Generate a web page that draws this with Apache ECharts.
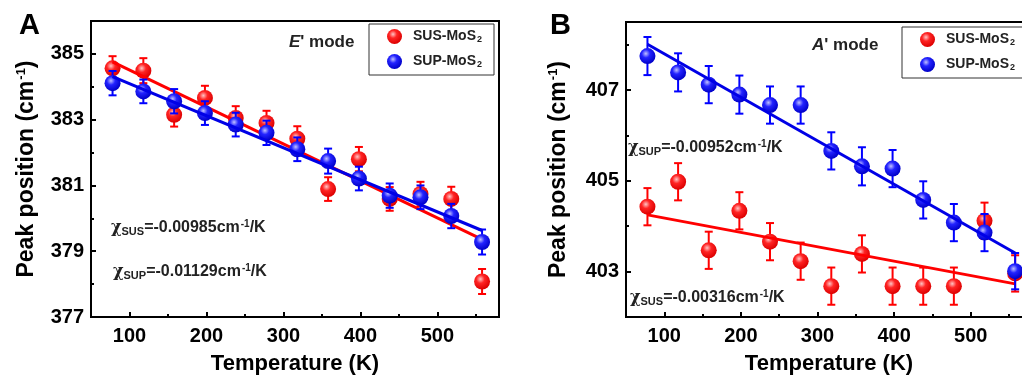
<!DOCTYPE html>
<html lang="en">
<head>
    <meta charset="UTF-8">
    <title>Peak position vs temperature</title>
    <script src="https://cdn.jsdelivr.net/npm/echarts@6.0.0/dist/echarts.min.js"></script>
    <style>
        body {
            margin: 0;
            padding: 0;
            background: #fff;
            overflow: hidden;
        }
        #chart {
            width: 1040px;
            height: 380px;
        }
    </style>
</head>
<body>
    <div id="chart"></div>
    <script>
        // temperatures (K), same for both panels
        const temps = [78, 118, 158, 198, 238, 278, 318, 358, 398, 438, 478, 518, 558];

        // panel A: E' mode
        const susA = [384.56, 384.49, 383.15, 383.66, 383.05, 382.90, 382.42, 380.89, 381.80, 380.59, 380.74, 380.59, 378.08];
        const supA = [384.11, 383.86, 383.56, 383.20, 382.85, 382.60, 382.10, 381.74, 381.21, 380.69, 380.64, 380.07, 379.28];
        const susAErr = [0.37, 0.38, 0.36, 0.37, 0.36, 0.37, 0.38, 0.36, 0.37, 0.36, 0.37, 0.37, 0.38];
        const supAErr = [0.37, 0.36, 0.37, 0.36, 0.36, 0.37, 0.36, 0.38, 0.36, 0.37, 0.36, 0.37, 0.38];
        const susAFit = [[78, 384.76], [558, 379.36]];
        const supAFit = [[78, 384.31], [558, 379.63]];

        // panel B: A' mode
        const susB = [404.43, 404.98, 403.47, 404.34, 403.66, 403.23, 402.68, 403.39, 402.68, 402.68, 402.68, 404.12, 402.96];
        const supB = [407.75, 407.39, 407.12, 406.90, 406.67, 406.67, 405.66, 405.32, 405.27, 404.58, 404.08, 403.86, 403.01];
        const susBErr = [0.41, 0.41, 0.41, 0.41, 0.41, 0.41, 0.41, 0.41, 0.41, 0.41, 0.41, 0.40, 0.40];
        const supBErr = [0.42, 0.42, 0.41, 0.42, 0.41, 0.41, 0.41, 0.42, 0.41, 0.41, 0.41, 0.41, 0.40];
        const susBFit = [[78, 404.25], [558, 402.73]];
        const supBFit = [[78, 408.01], [558, 403.41]];

        // axis ticks
        const xMajor = [100, 200, 300, 400, 500];
        const xMinor = [150, 250, 350, 450, 550];
        const yMajorA = [377, 379, 381, 383, 385];
        const yMinorA = [378, 380, 382, 384];
        const yMajorB = [403, 405, 407];
        const yMinorB = [404, 406, 408];

        const seriesNames = ['SUS-MoS2', 'SUP-MoS2'];

        const FONT = "'Liberation Sans', Arial, sans-serif";

        const redBall = {
            type: 'radial', x: 0.4, y: 0.35, r: 0.65,
            colorStops: [
                { offset: 0, color: '#ffc4c4' },
                { offset: 0.4, color: '#ff2424' },
                { offset: 1, color: '#dc0000' }
            ]
        };
        const blueBall = {
            type: 'radial', x: 0.4, y: 0.35, r: 0.65,
            colorStops: [
                { offset: 0, color: '#c0c0ff' },
                { offset: 0.4, color: '#2323ff' },
                { offset: 1, color: '#0000c8' }
            ]
        };

        const zip = (xs, ys) => xs.map((x, i) => [x, ys[i]]);
        const zip3 = (xs, ys, es) => xs.map((x, i) => [x, ys[i], es[i]]);

        function errorBar(params, api) {
            const x = api.value(0), y = api.value(1), e = api.value(2);
            const hi = api.coord([x, y + e]);
            const lo = api.coord([x, y - e]);
            const w = 4;
            const style = { stroke: api.visual('color'), lineWidth: 2 };
            return {
                type: 'group',
                children: [
                    { type: 'line', shape: { x1: hi[0], y1: hi[1], x2: lo[0], y2: lo[1] }, style: style },
                    { type: 'line', shape: { x1: hi[0] - w, y1: hi[1], x2: hi[0] + w, y2: hi[1] }, style: style },
                    { type: 'line', shape: { x1: lo[0] - w, y1: lo[1], x2: lo[0] + w, y2: lo[1] }, style: style }
                ]
            };
        }

        function xAxes(grid) {
            return [{
                gridIndex: grid, type: 'value', min: 50, max: 580, position: 'bottom',
                name: 'Temperature (K)', nameLocation: 'middle', nameGap: 36,
                nameTextStyle: { fontFamily: FONT, fontWeight: 'bold', fontSize: 22, color: '#000' },
                axisLine: { lineStyle: { color: '#000', width: 2 } },
                axisTick: { inside: true, length: 5, customValues: xMajor, lineStyle: { color: '#000', width: 2 } },
                axisLabel: { customValues: xMajor, margin: 9, fontFamily: FONT, fontWeight: 'bold', fontSize: 20, color: '#000' },
                splitLine: { show: false }
            }, {
                gridIndex: grid, type: 'value', min: 50, max: 580, position: 'bottom',
                axisLine: { show: false },
                axisTick: { inside: true, length: 3, customValues: xMinor, lineStyle: { color: '#000', width: 2 } },
                axisLabel: { show: false },
                splitLine: { show: false }
            }];
        }

        function yAxes(grid, min, max, major, minor, gap) {
            return [{
                gridIndex: grid, type: 'value', min: min, max: max, position: 'left',
                name: 'Peak position (cm{sup|-1})', nameLocation: 'middle', nameGap: gap, nameRotate: 90,
                nameTextStyle: {
                    fontFamily: FONT, fontWeight: 'bold', fontSize: 23, color: '#000',
                    rich: { sup: { fontFamily: FONT, fontWeight: 'bold', fontSize: 13, color: '#000', verticalAlign: 'top', padding: [0, 0, 10, 1] } }
                },
                axisLine: { lineStyle: { color: '#000', width: 2 } },
                axisTick: { inside: true, length: 5, customValues: major, lineStyle: { color: '#000', width: 2 } },
                axisLabel: { customValues: major, margin: 7, fontFamily: FONT, fontWeight: 'bold', fontSize: 20, color: '#000' },
                splitLine: { show: false }
            }, {
                gridIndex: grid, type: 'value', min: min, max: max, position: 'left',
                axisLine: { show: false },
                axisTick: { inside: true, length: 3, customValues: minor, lineStyle: { color: '#000', width: 2 } },
                axisLabel: { show: false },
                splitLine: { show: false }
            }];
        }

        function panelSeries(xi, yi, sus, sup, susErr, supErr, susFit, supFit) {
            return [
                {
                    type: 'custom', name: 'sus-err', xAxisIndex: xi, yAxisIndex: yi,
                    renderItem: errorBar, itemStyle: { color: '#ff0000' },
                    encode: { x: 0, y: 1 }, data: zip3(temps, sus, susErr), z: 2
                },
                {
                    type: 'scatter', name: seriesNames[0], xAxisIndex: xi, yAxisIndex: yi,
                    symbolSize: 16, itemStyle: { color: redBall, opacity: 1 },
                    data: zip(temps, sus), z: 3
                },
                {
                    type: 'line', name: 'sus-fit', xAxisIndex: xi, yAxisIndex: yi,
                    symbol: 'none', lineStyle: { color: '#ff0000', width: 3 },
                    data: susFit, z: 4
                },
                {
                    type: 'custom', name: 'sup-err', xAxisIndex: xi, yAxisIndex: yi,
                    renderItem: errorBar, itemStyle: { color: '#0000ff' },
                    encode: { x: 0, y: 1 }, data: zip3(temps, sup, supErr), z: 5
                },
                {
                    type: 'scatter', name: seriesNames[1], xAxisIndex: xi, yAxisIndex: yi,
                    symbolSize: 16, itemStyle: { color: blueBall, opacity: 1 },
                    data: zip(temps, sup), z: 6
                },
                {
                    type: 'line', name: 'sup-fit', xAxisIndex: xi, yAxisIndex: yi,
                    symbol: 'none', lineStyle: { color: '#0000e6', width: 3 },
                    data: supFit, z: 7
                }
            ];
        }

        function legendAt(left, top) {
            return {
                data: seriesNames, orient: 'vertical', left: left, top: top,
                icon: 'circle', itemWidth: 15, itemHeight: 15, itemGap: 10,
                padding: [5, 12, 6, 18],
                borderColor: '#333', borderWidth: 1, backgroundColor: '#fff',
                selectedMode: false,
                formatter: name => '{b|' + name.slice(0, -1) + '}{s|' + name.slice(-1) + '}',
                textStyle: {
                    rich: {
                        b: { fontFamily: FONT, fontWeight: 'bold', fontSize: 14, color: '#222', lineHeight: 15, padding: [0, 0, 0, 6] },
                        s: { fontFamily: FONT, fontWeight: 'bold', fontSize: 9, color: '#222', lineHeight: 15, verticalAlign: 'bottom', padding: [6, 0, 0, 1] }
                    }
                }
            };
        }

        const chiRich = {
            c: { fontFamily: "'DejaVu Serif', serif", fontWeight: 'bold', fontSize: 16, fill: '#222' },
            sub: { fontFamily: FONT, fontWeight: 'bold', fontSize: 11, fill: '#222', padding: [8, 0, 0, 0] },
            t: { fontFamily: FONT, fontWeight: 'bold', fontSize: 16, fill: '#222' },
            sup: { fontFamily: FONT, fontWeight: 'bold', fontSize: 10, fill: '#222', padding: [0, 0, 8, 1] }
        };
        const chiText = (sub, val) => '{c|χ}{sub|' + sub + '}{t|=' + val + 'cm}{sup|-1}{t|/K}';

        const modeRich = {
            i: { fontFamily: FONT, fontWeight: 'bold', fontStyle: 'italic', fontSize: 17, fill: '#222' },
            t: { fontFamily: FONT, fontWeight: 'bold', fontSize: 17, fill: '#222' }
        };

        function textAt(x, y, text, rich) {
            return {
                type: 'text', x: x, y: y, z: 100,
                style: { text: text, rich: rich, align: 'left', verticalAlign: 'middle' }
            };
        }

        const chart = echarts.init(document.getElementById('chart'));

        const option = {
            backgroundColor: '#fff',
            animation: false,
            grid: [
                { left: 91, top: 21, width: 408, height: 298, show: true, borderColor: '#000', borderWidth: 2 },
                { left: 626, top: 22, width: 406, height: 297, show: true, borderColor: '#000', borderWidth: 2 }
            ],
            xAxis: xAxes(0).concat(xAxes(1)),
            yAxis: yAxes(0, 377, 386, yMajorA, yMinorA, 53).concat(yAxes(1, 402, 408.5, yMajorB, yMinorB, 56)),
            legend: [legendAt(369, 24), legendAt(902, 27)],
            series: panelSeries(0, 0, susA, supA, susAErr, supAErr, susAFit, supAFit)
                .concat(panelSeries(2, 2, susB, supB, susBErr, supBErr, susBFit, supBFit)),
            graphic: [
                {
                    type: 'text', left: 19, top: 11,
                    style: { text: 'A', fontFamily: FONT, fontWeight: 'bold', fontSize: 29, fill: '#000' }
                },
                {
                    type: 'text', left: 550, top: 11,
                    style: { text: 'B', fontFamily: FONT, fontWeight: 'bold', fontSize: 29, fill: '#000' }
                },
                textAt(289, 42, "{i|E}{t|' mode}", modeRich),
                textAt(812, 45, "{i|A}{t|' mode}", modeRich),
                textAt(111, 228, chiText('SUS', '-0.00985'), chiRich),
                textAt(113, 272, chiText('SUP', '-0.01129'), chiRich),
                textAt(628, 148, chiText('SUP', '-0.00952'), chiRich),
                textAt(630, 298, chiText('SUS', '-0.00316'), chiRich)
            ]
        };

        chart.setOption(option);
    </script>
</body>
</html>
